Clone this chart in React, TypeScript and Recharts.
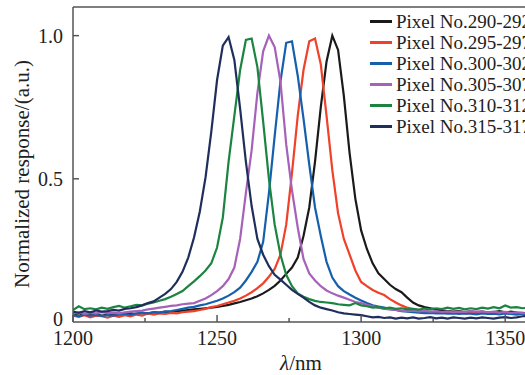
import { LineChart, Line, XAxis, YAxis, Legend, ReferenceLine } from 'recharts'

// wavelength grid, nm
const wavelengths = [
  1200, 1202, 1204, 1206, 1208, 1210, 1212, 1214, 1216, 1218,
  1220, 1222, 1224, 1226, 1228, 1230, 1232, 1234, 1236, 1238,
  1240, 1242, 1244, 1246, 1248, 1250, 1252, 1254, 1256, 1258,
  1260, 1262, 1264, 1266, 1268, 1270, 1272, 1274, 1276, 1278,
  1280, 1282, 1284, 1286, 1288, 1290, 1292, 1294, 1296, 1298,
  1300, 1302, 1304, 1306, 1308, 1310, 1312, 1314, 1316, 1318,
  1320, 1322, 1324, 1326, 1328, 1330, 1332, 1334, 1336, 1338,
  1340, 1342, 1344, 1346, 1348, 1350, 1352, 1354, 1356, 1358,
  1360,
]

const pixel290 = [
  0.026, 0.022, 0.028, 0.024, 0.026, 0.022, 0.027, 0.025, 0.028, 0.026,
  0.030, 0.028, 0.032, 0.030, 0.034, 0.033, 0.036, 0.035, 0.038, 0.040,
  0.042, 0.044, 0.046, 0.048, 0.050, 0.053, 0.056, 0.060, 0.065, 0.070,
  0.076, 0.082, 0.090, 0.100, 0.112, 0.126, 0.145, 0.168, 0.190, 0.225,
  0.300, 0.400, 0.560, 0.750, 0.910, 1.000, 0.950, 0.790, 0.590, 0.430,
  0.320, 0.255, 0.205, 0.170, 0.150, 0.130, 0.115, 0.104, 0.085, 0.068,
  0.058, 0.052, 0.048, 0.044, 0.040, 0.038, 0.036, 0.038, 0.035, 0.037,
  0.034, 0.036, 0.033, 0.035, 0.038, 0.034, 0.036, 0.033, 0.032, 0.030,
  0.028,
]

const pixel295 = [
  0.022, 0.018, 0.024, 0.016, 0.022, 0.020, 0.015, 0.022, 0.018, 0.024,
  0.020, 0.026, 0.022, 0.030, 0.026, 0.030, 0.028, 0.032, 0.030, 0.034,
  0.036, 0.038, 0.042, 0.046, 0.052, 0.056, 0.062, 0.068, 0.074, 0.082,
  0.092, 0.104, 0.118, 0.135, 0.158, 0.185, 0.235, 0.340, 0.520, 0.720,
  0.880, 0.980, 0.990, 0.900, 0.720, 0.530, 0.380, 0.290, 0.235, 0.180,
  0.140, 0.125, 0.112, 0.102, 0.094, 0.080, 0.068, 0.058, 0.050, 0.045,
  0.040, 0.037, 0.034, 0.035, 0.032, 0.033, 0.031, 0.033, 0.030, 0.032,
  0.030, 0.033, 0.031, 0.029, 0.032, 0.030, 0.031, 0.029, 0.030, 0.028,
  0.030,
]

const pixel300 = [
  0.024, 0.020, 0.026, 0.022, 0.025, 0.021, 0.024, 0.022, 0.026, 0.028,
  0.025, 0.030, 0.032, 0.030, 0.034, 0.033, 0.036, 0.038, 0.042, 0.046,
  0.050, 0.053, 0.058, 0.062, 0.068, 0.074, 0.082, 0.092, 0.104, 0.120,
  0.145, 0.175, 0.210, 0.280, 0.450, 0.650, 0.840, 0.975, 0.980, 0.860,
  0.710, 0.550, 0.400, 0.300, 0.210, 0.155, 0.125, 0.108, 0.096, 0.085,
  0.075, 0.066, 0.058, 0.054, 0.050, 0.045, 0.042, 0.038, 0.036, 0.034,
  0.033, 0.031, 0.032, 0.030, 0.031, 0.029, 0.030, 0.028, 0.030, 0.029,
  0.027, 0.030, 0.028, 0.029, 0.027, 0.030, 0.028, 0.026, 0.029, 0.027,
  0.025,
]

const pixel305 = [
  0.030, 0.034, 0.028, 0.032, 0.030, 0.034, 0.031, 0.033, 0.030, 0.034,
  0.036, 0.038, 0.040, 0.044, 0.047, 0.050, 0.053, 0.056, 0.058, 0.062,
  0.064, 0.066, 0.074, 0.082, 0.094, 0.108, 0.125, 0.150, 0.190, 0.290,
  0.450, 0.600, 0.800, 0.945, 1.000, 0.960, 0.840, 0.620, 0.460, 0.330,
  0.220, 0.170, 0.145, 0.125, 0.110, 0.100, 0.092, 0.085, 0.078, 0.070,
  0.066, 0.060, 0.055, 0.050, 0.046, 0.044, 0.042, 0.040, 0.038, 0.040,
  0.037, 0.039, 0.036, 0.038, 0.035, 0.037, 0.034, 0.036, 0.035, 0.038,
  0.036, 0.037, 0.034, 0.036, 0.033, 0.035, 0.032, 0.034, 0.031, 0.030,
  0.032,
]

const pixel310 = [
  0.042, 0.055, 0.045, 0.048, 0.044, 0.050, 0.046, 0.052, 0.056, 0.050,
  0.055, 0.060, 0.058, 0.064, 0.068, 0.074, 0.080, 0.088, 0.098, 0.108,
  0.125, 0.142, 0.160, 0.180, 0.205, 0.260, 0.365, 0.560, 0.720, 0.880,
  0.985, 0.990, 0.890, 0.700, 0.500, 0.340, 0.235, 0.165, 0.125, 0.100,
  0.088, 0.080, 0.074, 0.070, 0.068, 0.066, 0.062, 0.060, 0.058, 0.066,
  0.058, 0.055, 0.050, 0.052, 0.048, 0.050, 0.046, 0.048, 0.044, 0.046,
  0.043, 0.047, 0.044, 0.048, 0.045, 0.050, 0.046, 0.049, 0.044, 0.048,
  0.045, 0.050, 0.047, 0.052, 0.048, 0.058, 0.050, 0.052, 0.048, 0.050,
  0.046,
]

const pixel315 = [
  0.036, 0.032, 0.038, 0.034, 0.040, 0.036, 0.038, 0.042, 0.040, 0.046,
  0.048, 0.052, 0.058, 0.066, 0.072, 0.085, 0.098, 0.115, 0.140, 0.175,
  0.225, 0.295, 0.385, 0.505, 0.665, 0.845, 0.965, 0.995, 0.915, 0.745,
  0.560, 0.405, 0.290, 0.235, 0.195, 0.165, 0.148, 0.130, 0.112, 0.098,
  0.085, 0.070, 0.058, 0.050, 0.045, 0.040, 0.034, 0.030, 0.028, 0.026,
  0.024, 0.020, 0.016, 0.018, 0.014, 0.016, 0.012, 0.015, 0.013, 0.016,
  0.012, 0.014, 0.017, 0.013, 0.015, 0.012, 0.016, 0.014, 0.012, 0.015,
  0.013, 0.016, 0.014, 0.012, 0.015, 0.017, 0.014, 0.016, 0.020, 0.022,
  0.018,
]

const seriesNames = [
  'Pixel No.290-292',
  'Pixel No.295-297',
  'Pixel No.300-302',
  'Pixel No.305-307',
  'Pixel No.310-312',
  'Pixel No.315-317',
]
const seriesKeys = ['p290', 'p295', 'p300', 'p305', 'p310', 'p315']
const seriesColors = ['#1a1a1a', '#f0412a', '#1560ad', '#a661b9', '#1b8440', '#1f2e5c']

const xTicks = [1200, 1225, 1250, 1275, 1300, 1325, 1350]
const yTicks = [0, 0.5, 1.0]
const yTickLabels = ['0', '0.5', '1.0']

const rows = wavelengths.map((w, i) => ({
  w,
  p290: pixel290[i],
  p295: pixel295[i],
  p300: pixel300[i],
  p305: pixel305[i],
  p310: pixel310[i],
  p315: pixel315[i],
}))

const FONT = '"Liberation Serif", "Times New Roman", serif'
const AXIS = '#555'
const TEXT = '#222'

function XTick({ x, y, payload }: any) {
  const major = payload.value % 50 === 0
  return (
    <g>
      <line x1={x} x2={x} y1={y} y2={y - (major ? 7 : 4)} stroke={AXIS} strokeWidth={1.5} />
      {major && (
        <text x={x} y={y + 16} textAnchor="middle" dominantBaseline="central" fontFamily={FONT} fontSize={20} fill={TEXT}>
          {payload.value}
        </text>
      )}
    </g>
  )
}

function YTick({ x, y, payload }: any) {
  const idx = yTicks.indexOf(payload.value)
  const zero = payload.value === 0
  return (
    <g>
      {!zero && <line x1={x} x2={x + 6} y1={y} y2={y} stroke={AXIS} strokeWidth={1.5} />}
      <text
        x={x - 10}
        y={zero ? y - 3 : y}
        textAnchor="end"
        dominantBaseline="central"
        fontFamily={FONT}
        fontSize={20}
        fill={TEXT}
      >
        {yTickLabels[idx]}
      </text>
    </g>
  )
}

const renderYLabel = () => (
  <text
    transform="translate(22,174) rotate(-90)"
    textAnchor="middle"
    dominantBaseline="central"
    fontFamily={FONT}
    fontSize={21}
    fill={TEXT}
  >
    Normalized response/(a.u.)
  </text>
)

const renderXLabel = () => (
  <text x={301} y={363} textAnchor="middle" dominantBaseline="central" fontFamily={FONT} fontSize={21} fill={TEXT}>
    <tspan fontStyle="italic">λ</tspan>/nm
  </text>
)

function LegendBox() {
  return (
    <div style={{ fontFamily: FONT, fontSize: 19, color: TEXT, whiteSpace: 'nowrap' }}>
      {seriesNames.map((name, i) => (
        <div key={name} style={{ display: 'flex', alignItems: 'center', height: 21 }}>
          <span style={{ display: 'inline-block', width: 22, height: 3, background: seriesColors[i], marginRight: 4 }} />
          <span>{name}</span>
        </div>
      ))}
    </div>
  )
}

export default function App() {
  return (
    <div style={{ position: 'absolute', left: 0, top: 0, width: 525, height: 375, overflow: 'hidden', background: '#fff' }}>
      <LineChart width={545} height={375} data={rows} margin={{ top: 7, right: 11, bottom: 0, left: 0 }}>
        <XAxis
          dataKey="w"
          type="number"
          domain={[1200, 1360]}
          ticks={xTicks}
          interval={0}
          tickSize={0}
          tickMargin={0}
          tickLine={false}
          tick={XTick}
          height={53}
          axisLine={{ stroke: AXIS, strokeWidth: 1.5 }}
          label={renderXLabel}
          allowDataOverflow
        />
        <YAxis
          type="number"
          domain={[0, 1.1]}
          ticks={yTicks}
          interval={0}
          tickSize={0}
          tickMargin={0}
          tickLine={false}
          tick={YTick}
          width={73}
          axisLine={{ stroke: AXIS, strokeWidth: 1.5 }}
          label={renderYLabel}
          allowDataOverflow
        />
        <ReferenceLine y={1.1} stroke={AXIS} strokeWidth={1.5} ifOverflow="visible" />
        <ReferenceLine x={1360} stroke={AXIS} strokeWidth={1.5} ifOverflow="visible" />
        {seriesKeys.map((k, i) => (
          <Line
            key={k}
            dataKey={k}
            name={seriesNames[i]}
            type="linear"
            stroke={seriesColors[i]}
            strokeWidth={2.2}
            dot={false}
            activeDot={false}
            isAnimationActive={false}
          />
        ))}
        <Legend
          layout="vertical"
          align="center"
          verticalAlign="middle"
          content={LegendBox}
          wrapperStyle={{ top: 11, left: 370, width: 220 }}
        />
      </LineChart>
    </div>
  )
}
